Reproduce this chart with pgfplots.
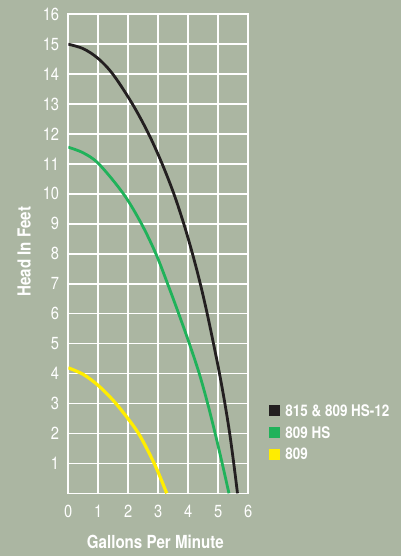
\documentclass[border=0pt]{standalone}
\usepackage{pgfplots}
\pgfplotsset{compat=1.18}
\usepackage{fontspec}
\setmainfont{TeX Gyre Heros}[FakeStretch=0.84]
\definecolor{bgc}{RGB}{171,182,162}
\definecolor{cblack}{RGB}{35,31,32}
\definecolor{cgreen}{RGB}{32,178,90}
\definecolor{cyellow}{RGB}{255,237,0}
\begin{document}
\begin{tikzpicture}
\path[use as bounding box, fill=bgc] (-68.3bp,-62.7bp) rectangle (332.7bp,493.3bp);
\begin{axis}[
  scale only axis, width=180bp, height=479bp,
  at={(0,0)}, anchor=south west,
  xmin=0, xmax=6, ymin=0, ymax=16,
  xtick={0,...,6}, ytick={1,...,16},
  grid=major, major grid style={white, line width=1.6bp},
  axis line style={white, line width=1.6bp},
  major tick length=0pt,
  /pgf/number format/assume math mode=true,
  tick label style={text=white, font=\fontsize{17.5bp}{20bp}\selectfont, inner sep=0pt},
  yticklabel style={anchor=east, xshift=-9bp},
  xticklabel style={anchor=north, yshift=-11.7bp},
  xlabel={Gallons Per Minute},
  ylabel={Head In Feet},
  xlabel style={at={(axis description cs:0.4833,-0.1148)}, anchor=base, text=white, font=\bfseries\fontsize{18bp}{20bp}\selectfont},
  ylabel style={at={(axis description cs:-0.2089,0.5044)}, anchor=base, rotate=0, text=white, font=\bfseries\fontsize{18bp}{20bp}\selectfont},
  legend style={at={(axis description cs:1.115,0.1841)}, anchor=north west, draw=none, fill=none, inner sep=0pt, outer sep=0pt,
    text=white, font=\bfseries\fontsize{16bp}{18bp}\selectfont,
    nodes={inner sep=0pt, text height=11.2bp, text depth=0bp}, row sep=10.6bp, column sep=5.6bp},
  legend cell align=left,
  legend image code/.code={\fill (0bp,-3.85bp) rectangle (7.7bp,3.85bp);},
]
\addplot[cblack, line width=2.8bp, smooth, tension=0.55] coordinates {
(0,15) (0.5,14.85) (1,14.52) (1.5,13.98) (2.14,13) (2.68,12) (3.13,11) (3.52,10) (3.85,9) (4.14,8) (4.40,7) (4.63,6) (4.84,5) (5.04,4) (5.22,3) (5.38,2) (5.515,1) (5.64,0)};
\addlegendentry{815 \& 809 HS-12}
\addplot[cgreen, line width=2.8bp, smooth, tension=0.55] coordinates {
(0,11.56) (0.5,11.37) (1.02,11) (1.84,10) (2.44,9) (2.92,8) (3.31,7) (3.68,6) (4.035,5) (4.365,4) (4.645,3) (4.895,2) (5.13,1) (5.355,0)};
\addlegendentry{809 HS}
\addplot[cyellow, line width=3.2bp, smooth, tension=0.55] coordinates {
(0,4.19) (0.5,3.97) (1,3.6) (1.5,3.1) (2,2.48) (2.4,1.9) (2.9,0.92) (3.28,0)};
\addlegendentry{809}
\end{axis}
\end{tikzpicture}
\end{document}
